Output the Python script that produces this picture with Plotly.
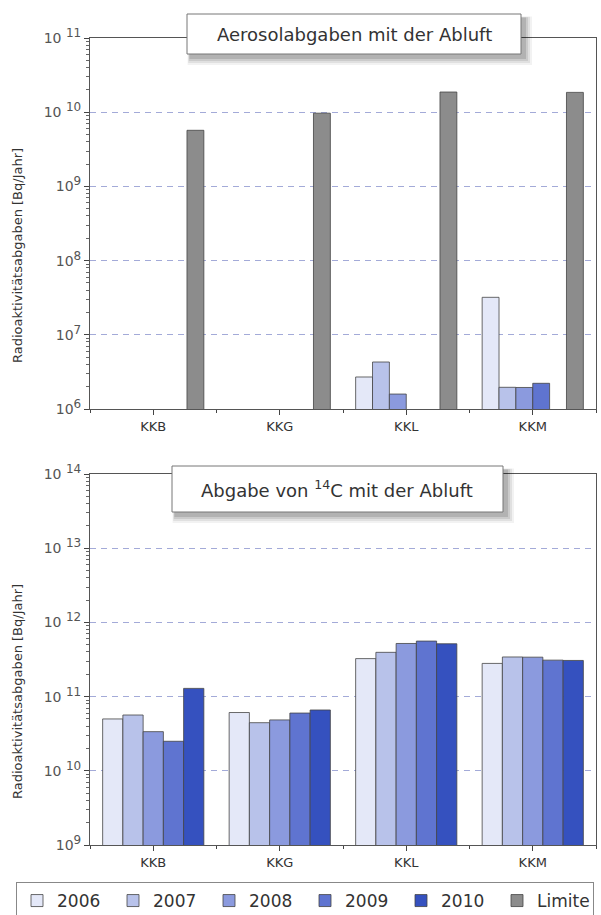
import plotly.graph_objects as go

W, H = 601, 915

categories = ["KKB", "KKG", "KKL", "KKM"]
years = ["2006", "2007", "2008", "2009", "2010"]
year_colors = ["#e4e8f8", "#b8c2ea", "#8b9ade", "#5f74d0", "#3551bf"]
limit_color = "#8c8c8c"

# Aerosol releases [Bq/Jahr]
aerosol = {
    "2006": [None, None, 2.7e6, 3.2e7],
    "2007": [None, None, 4.3e6, 1.96e6],
    "2008": [None, None, 1.59e6, 1.95e6],
    "2009": [None, None, None, 2.22e6],
    "2010": [None, None, None, None],
}
aerosol_limit = [5.7e9, 9.7e9, 1.87e10, 1.85e10]

# C-14 releases [Bq/Jahr]
c14 = {
    "2006": [5.0e10, 6.1e10, 3.25e11, 2.8e11],
    "2007": [5.65e10, 4.45e10, 3.95e11, 3.42e11],
    "2008": [3.37e10, 4.85e10, 5.2e11, 3.4e11],
    "2009": [2.5e10, 6.0e10, 5.6e11, 3.1e11],
    "2010": [1.29e11, 6.6e10, 5.15e11, 3.07e11],
}

top_exps = [6, 7, 8, 9, 10, 11]
bot_exps = [9, 10, 11, 12, 13, 14]


def px_x(x):
    return x / W


def px_y(y):
    return 1 - y / H


def exp_label(e):
    sp = " " if e >= 10 else ""
    return "10%s<sup><span style='font-size:12px'>%d</span></sup>" % (sp, e)


xidx = list(range(len(categories)))
fig = go.Figure()

for yr, col in zip(years, year_colors):
    fig.add_trace(go.Bar(x=xidx, y=aerosol[yr], name=yr, marker=dict(color=col, line=dict(color="#444", width=0.8)),
                         xaxis="x", yaxis="y", showlegend=True))
fig.add_trace(go.Bar(x=xidx, y=aerosol_limit, name="Limite", marker=dict(color=limit_color, line=dict(color="#444", width=0.8)),
                     xaxis="x", yaxis="y", showlegend=True))
for yr, col in zip(years, year_colors):
    fig.add_trace(go.Bar(x=xidx, y=c14[yr], name=yr, marker=dict(color=col, line=dict(color="#444", width=0.8)),
                         xaxis="x2", yaxis="y2", showlegend=False))

font_fam = "DejaVu Sans"
xdom = [px_x(90), px_x(596)]

common_x = dict(
    domain=xdom, range=[-0.5, 3.5], tickmode="array", tickvals=xidx, ticktext=categories,
    ticks="outside", ticklen=5, tickcolor="#444", showline=True, linecolor="#555", linewidth=1,
    mirror=True, showgrid=False, zeroline=False, tickfont=dict(family=font_fam, size=13, color="#333"),
    minor=dict(tick0=-0.5, dtick=1, ticks="outside", ticklen=3, tickcolor="#444", showgrid=False),
)


def yaxis_cfg(dom, exps, anchor):
    minors = [m * 10 ** e for e in exps[:-1] for m in range(2, 10)]
    return dict(
        domain=dom, type="log", range=[exps[0], exps[-1]], tickmode="array",
        tickvals=[10 ** e for e in exps], ticktext=[exp_label(e) for e in exps],
        ticks="outside", ticklen=5, tickcolor="#444", showline=True, linecolor="#555", linewidth=1,
        mirror=True, showgrid=True, gridcolor="#a3aad8", griddash="6px,5px", gridwidth=1,
        zeroline=False, tickfont=dict(family=font_fam, size=14, color="#555"), anchor=anchor,
        minor=dict(tickmode="array", tickvals=minors, ticks="outside", ticklen=3, tickcolor="#666", showgrid=False),
    )


layout = dict(
    width=W, height=H, margin=dict(l=0, r=0, t=0, b=0, autoexpand=False), paper_bgcolor="white", plot_bgcolor="white",
    barmode="group", bargap=0.2, bargroupgap=0,
    xaxis=dict(common_x, anchor="y"),
    yaxis=yaxis_cfg([px_y(409), px_y(38)], top_exps, "x"),
    xaxis2=dict(common_x, anchor="y2"),
    yaxis2=yaxis_cfg([px_y(845), px_y(474)], bot_exps, "x2"),
    legend=dict(orientation="h", x=px_x(16), y=px_y(882), xanchor="left", yanchor="top",
                bordercolor="#888", borderwidth=1, bgcolor="white", entrywidth=51, entrywidthmode="pixels",
                font=dict(family=font_fam, size=17, color="#333"), traceorder="normal"),
    font=dict(family=font_fam),
)
fig.update_layout(**layout)

shapes = []
annotations = []


def title_box(x0, y0, x1, y1, text):
    for i, a in enumerate([0.05, 0.07, 0.09, 0.12]):
        d = 8 - 2 * i
        shapes.append(dict(type="rect", xref="paper", yref="paper",
                           x0=px_x(x0 + 3 - d * 0.3), x1=px_x(x1 + 3 + d), y0=px_y(y0 + 4 - d * 0.2), y1=px_y(y1 + 3 + d),
                           fillcolor="rgba(0,0,0,%.2f)" % a, line=dict(width=0)))
    shapes.append(dict(type="rect", xref="paper", yref="paper", x0=px_x(x0), x1=px_x(x1), y0=px_y(y0), y1=px_y(y1),
                       fillcolor="white", line=dict(color="#777", width=1)))
    annotations.append(dict(xref="paper", yref="paper", x=px_x((x0 + x1) / 2), y=px_y((y0 + y1) / 2),
                            text=text, showarrow=False, xanchor="center", yanchor="middle",
                            font=dict(family=font_fam, size=18, color="#333")))


title_box(187, 14, 521, 54, "Aerosolabgaben mit der Abluft")
title_box(172, 466, 503, 512, "Abgabe von <sup>14</sup>C mit der Abluft")

ytitle = "Radioaktivitätsabgaben [Bq/Jahr]"
for yc in (256, 692):
    annotations.append(dict(xref="paper", yref="paper", x=px_x(17), y=px_y(yc), text=ytitle, textangle=-90,
                            showarrow=False, xanchor="center", yanchor="middle",
                            font=dict(family=font_fam, size=13, color="#333")))

fig.update_layout(shapes=shapes, annotations=annotations)
fig.write_html("out.html", config={"displayModeBar": False},
               post_script="document.body.style.margin='0px';document.documentElement.style.overflow='hidden';")
